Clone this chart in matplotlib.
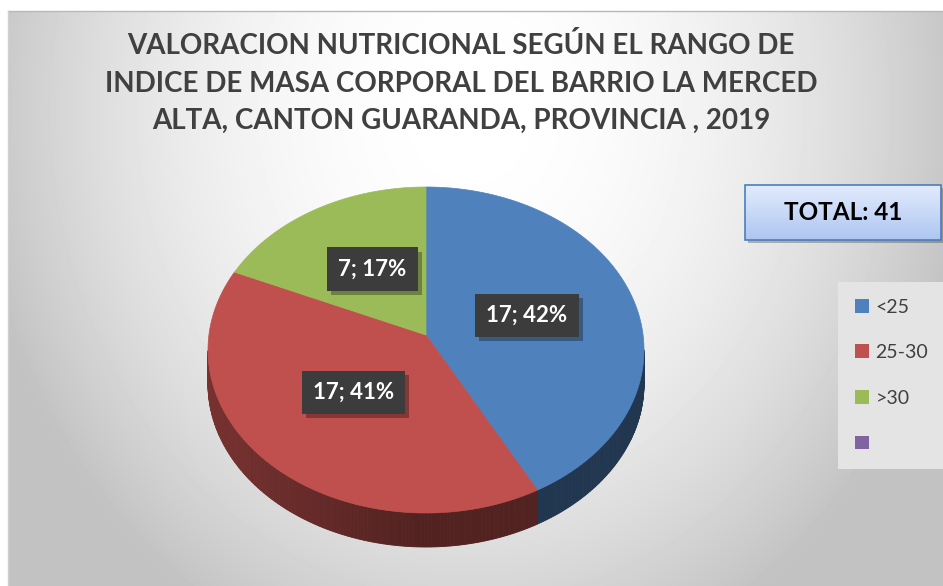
import numpy as np
import matplotlib
matplotlib.use("Agg")
import matplotlib.pyplot as plt
import matplotlib.patheffects as pe
from matplotlib.patches import Polygon, Rectangle, Patch
from matplotlib.colors import to_rgb

# ----- data -----
categories = ["<25", "25-30", ">30", ""]
counts = [17, 17, 7, 0]
shares = [42, 41, 17, 0]          # percent as printed on the chart
colors = ["#4f81bd", "#c0504d", "#9bbb59", "#8064a2"]
title_lines = [
    "VALORACION NUTRICIONAL SEGÚN EL RANGO DE",
    "INDICE DE MASA CORPORAL DEL BARRIO LA MERCED",
    "ALTA, CANTON GUARANDA, PROVINCIA , 2019",
]
total_text = "TOTAL: 41"

plt.rcParams["font.family"] = ["Lato", "DejaVu Sans"]

W, H = 943, 586
fig = plt.figure(figsize=(W / 100, H / 100), dpi=100)
ax = fig.add_axes([0, 0, 1, 1])

# ----- background (radial grey gradient) -----
x0, y0 = 8, 11
yy, xx = np.mgrid[y0:H, x0:W]
d2 = ((xx - 470) / 480.0) ** 2 + ((yy - 110) / 560.0) ** 2
bg = np.clip(1 - 0.22 * d2, 0.76, 1.0)
ax.imshow(bg, cmap="gray", vmin=0, vmax=1, extent=(x0, W, H, y0),
          aspect="auto", zorder=0, interpolation="bilinear")
ax.plot([x0, W], [y0, y0], color="#b8b8b8", lw=1, zorder=1)
ax.plot([x0, x0], [y0, H], color="#d0d0d0", lw=1, zorder=1)

# ----- 3d pie -----
cx, cy = 426, 350      # rim ellipse centre
hx, hy = 426, 335      # hub (where slices meet)
a, b, depth = 218, 163, 34


def rim(t):
    return cx + a * np.cos(t), cy - b * np.sin(t)


total = sum(counts)
bounds = 90 - 360 * np.concatenate([[0], np.cumsum(counts)]) / total

for i, c in enumerate(colors):
    if counts[i] == 0:
        continue
    t1, t2 = bounds[i], bounds[i + 1]
    ts = np.radians(np.linspace(t1, t2, 240))
    base = np.array(to_rgb(c))
    # side wall, only the front half is visible
    for j in range(len(ts) - 1):
        tm = 0.5 * (ts[j] + ts[j + 1])
        if np.sin(tm) >= 0:
            continue
        xa, ya = rim(ts[j])
        xb, yb = rim(ts[j + 1])
        f = 0.42 + 0.2 * max(0.0, -np.cos(tm))
        col = base * f
        ax.add_patch(Polygon([(xa, ya), (xb, yb), (xb, yb + depth), (xa, ya + depth)],
                             closed=True, fc=col, ec=col, lw=0.6, zorder=2))
    # top face
    rx, ry = rim(ts)
    pts = [(hx, hy)] + list(zip(rx, ry))
    ax.add_patch(Polygon(pts, closed=True, fc=c, ec=c, lw=0.5, zorder=3))

    # data label
    tm = np.radians(0.5 * (t1 + t2))
    mx, my = rim(tm)
    lx, ly = hx + 0.48 * (mx - hx), hy + 0.48 * (my - hy) - 6
    s = f"{counts[i]}; {shares[i]}%"
    t = ax.text(lx, ly, s, ha="center", va="center", fontsize=16,
                fontweight="bold", color="white", zorder=5,
                bbox=dict(boxstyle="square,pad=0.5", fc="#3c3c3c", ec="none"))
    t.get_bbox_patch().set_path_effects(
        [pe.SimplePatchShadow(offset=(3, -3), shadow_rgbFace="black", alpha=0.3), pe.Normal()])

# ----- title -----
for k, line in enumerate(title_lines):
    ax.text(461, 46 + 37.5 * k, line, ha="center", va="center", fontsize=20,
            fontweight="bold", color="#404040", zorder=5)

# ----- total box -----
bx, by, bw, bh = 745, 185, 196, 55
ax.add_patch(Rectangle((bx + 3, by + 3), bw, bh, fc="black", alpha=0.25, ec="none", zorder=4))
grad = np.linspace(0, 1, 64)[:, None]
top_c, bot_c = np.array(to_rgb("#e2ebfc")), np.array(to_rgb("#aec6f2"))
img = top_c[None, None, :] * (1 - grad[..., None]) + bot_c[None, None, :] * grad[..., None]
ax.imshow(img, extent=(bx, bx + bw, by + bh, by), aspect="auto", zorder=5,
          interpolation="bilinear")
ax.add_patch(Rectangle((bx, by), bw, bh, fc="none", ec="#4a7ebb", lw=1.2, zorder=6))
ax.text(bx + bw / 2, by + bh / 2, total_text, ha="center", va="center",
        fontsize=17.5, fontweight="bold", color="black", zorder=7)

# ----- legend -----
handles = [Patch(fc=c, ec="none") for c in colors]
leg = fig.legend(handles, categories, loc="upper left",
                 bbox_to_anchor=(838 / W, 1 - 282 / H), borderaxespad=0,
                 fontsize=14, handlelength=0.72, handleheight=0.72,
                 handletextpad=0.35, labelspacing=1.47, borderpad=0.85,
                 frameon=True, fancybox=False, labelcolor="#404040")
leg.get_frame().set_facecolor("#e4e4e4")
leg.get_frame().set_edgecolor("none")
leg.get_frame().set_alpha(1)

ax.set_xlim(0, W)
ax.set_ylim(H, 0)
ax.axis("off")

fig.savefig("out.png", dpi=100)
